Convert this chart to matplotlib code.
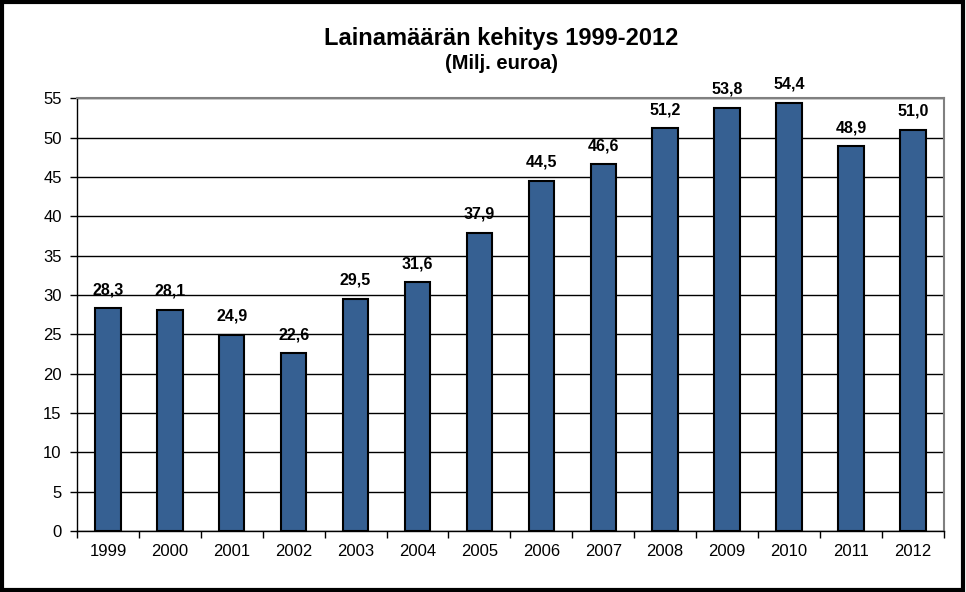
import matplotlib
matplotlib.use("Agg")
import matplotlib.pyplot as plt
from matplotlib.patches import Rectangle

years = ['1999', '2000', '2001', '2002', '2003', '2004', '2005',
         '2006', '2007', '2008', '2009', '2010', '2011', '2012']
values = [28.3, 28.1, 24.9, 22.6, 29.5, 31.6, 37.9,
          44.5, 46.6, 51.2, 53.8, 54.4, 48.9, 51.0]

plt.rcParams['font.family'] = ['Liberation Sans', 'DejaVu Sans']

fig = plt.figure(figsize=(9.66, 5.92), dpi=100)
ax = fig.add_axes([0.0797, 0.103, 0.8973, 0.731])

x = range(len(years))
ax.bar(x, values, width=0.41, color='#366092', edgecolor='black', linewidth=1.5, zorder=3)

# value labels, finnish decimal comma
for i, v in enumerate(values):
    ax.annotate(f'{v:.1f}'.replace('.', ','), (i, v), xytext=(0, 8),
                textcoords='offset points', ha='center', va='bottom',
                fontsize=11.5, fontweight='bold')

ax.set_xlim(-0.5, len(years) - 0.5)
ax.set_ylim(0, 55)
ax.set_yticks(range(0, 56, 5))
ax.yaxis.grid(True, color='black', linewidth=1, zorder=0)
ax.set_axisbelow(True)

ax.set_xticks(x)
ax.set_xticklabels(years, fontsize=12)
ax.set_xticks([i - 0.5 for i in range(len(years) + 1)], minor=True)
ax.tick_params(axis='x', which='major', length=0, pad=9)
ax.tick_params(axis='x', which='minor', length=5, width=1, direction='out')
ax.tick_params(axis='y', labelsize=12, length=5, width=1, direction='out', pad=6)

for s in ['top', 'right']:
    ax.spines[s].set_color('#808080')
    ax.spines[s].set_linewidth(1.5)
for s in ['left', 'bottom']:
    ax.spines[s].set_color('black')
    ax.spines[s].set_linewidth(1)

fig.text(0.519, 0.935, 'Lainamäärän kehitys 1999-2012', ha='center', va='center',
         fontsize=17, fontweight='bold')
fig.text(0.519, 0.893, '(Milj. euroa)', ha='center', va='center',
         fontsize=14.5, fontweight='bold')

# outer chart frame
fig.patches.append(Rectangle((0.002, 0.004), 0.995, 0.993, transform=fig.transFigure,
                             fill=False, edgecolor='black', linewidth=3))

fig.savefig('out.png', dpi=100)
